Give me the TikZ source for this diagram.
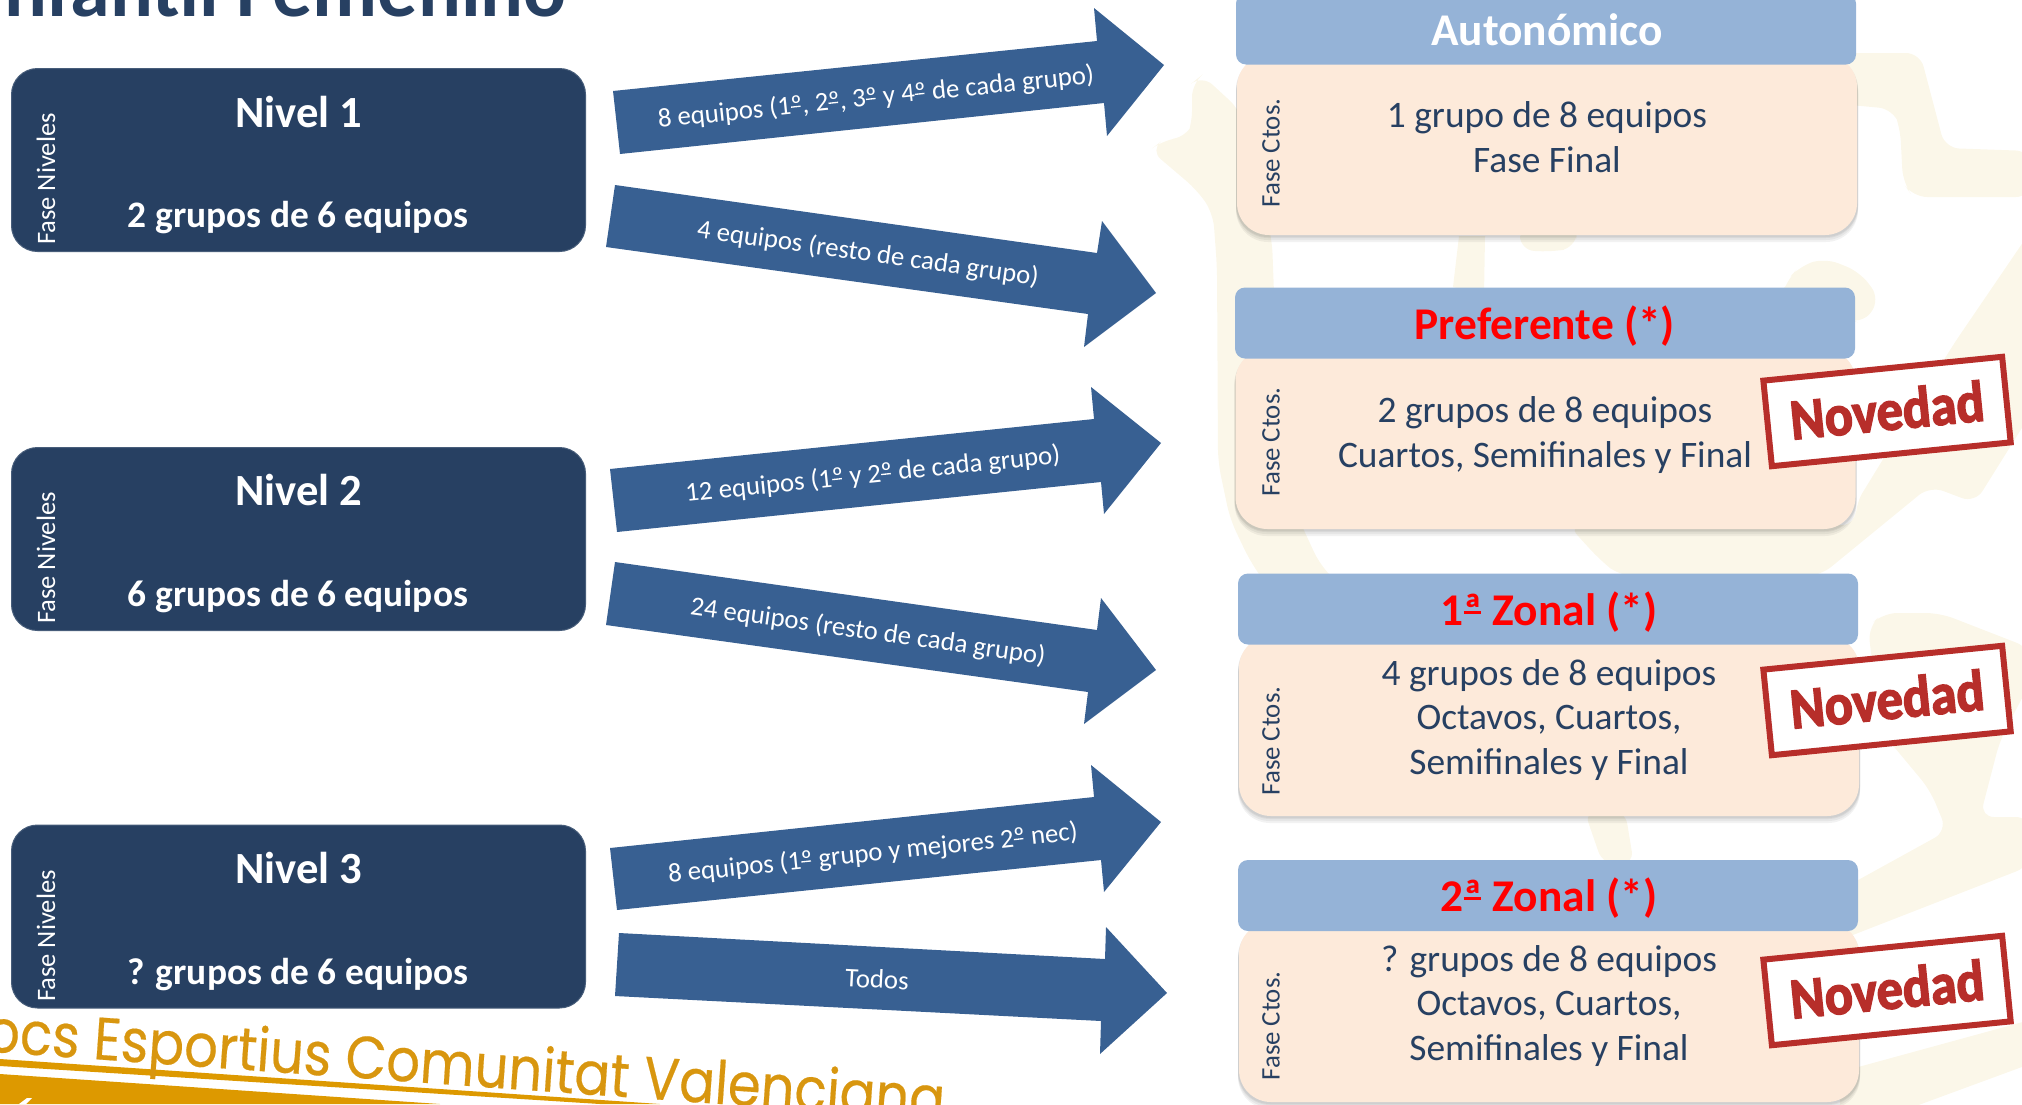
\documentclass[tikz,border=0pt]{standalone}
\usepackage{fontspec}
\setmainfont{Carlito}
\newfontfamily\gothicfont[FakeStretch=0.883,FakeBold=0.3]{Poppins}
\newfontfamily\stampfont[FakeBold=2.6,FakeStretch=0.9]{Carlito Bold}
\definecolor{lvlblue}{HTML}{274062}
\definecolor{arrowblue}{HTML}{386092}
\definecolor{headblue}{HTML}{95B3D7}
\definecolor{bodypeach}{HTML}{FDEADA}
\definecolor{wmcream}{HTML}{FBF7E9}
\definecolor{stampred}{HTML}{B72E2A}
\definecolor{orangetxt}{HTML}{D8960F}
\definecolor{orangeband}{HTML}{DD9900}
\newcommand{\fs}[2]{\fontsize{#1}{#2}\selectfont}
\newcommand{\ordm}{\rlap{\raisebox{.24em}{\rule{.36em}{.05em}}}º}
\newcommand{\orda}{\rlap{\raisebox{.25em}{\rule{.38em}{.07em}}}ª}
\tikzset{
  lvlbox/.style={fill=lvlblue,draw=lvlblue!85!white,line width=0.5pt,rounded corners=13pt,minimum width=287pt,minimum height=91.5pt,inner sep=0pt},
  headbox/.style={fill=headblue,rounded corners=5pt,minimum width=310pt,minimum height=35.5pt,inner sep=0pt},
  bodybox/.style={fill=bodypeach,rounded corners=16pt,minimum width=310pt,inner sep=0pt},
  shadebox/.style={fill=black,opacity=0.05,rounded corners=16pt,minimum width=311pt,inner sep=0pt},
  arrowshape/.style={fill=arrowblue},
  arrowtext/.style={text=white,font=\fs{13.4}{16},inner sep=0pt},
  lvltitle/.style={text=white,font=\bfseries\fs{22.3}{24},inner sep=0pt},
  lvlsub/.style={text=white,font=\bfseries\fs{18.7}{20},inner sep=0pt},
  sidelvl/.style={text=white,font=\fs{13.3}{14},rotate=90,inner sep=0pt},
  sidecto/.style={text=lvlblue,font=\fs{13.4}{14},rotate=90,inner sep=0pt},
  headwhite/.style={text=white,font=\bfseries\fs{22.7}{24},inner sep=0pt},
  headred/.style={text=red,font=\bfseries\fs{22.7}{24},inner sep=0pt},
  bodytext/.style={text=lvlblue,font=\fs{18.7}{22.3},align=center,inner sep=0pt},
  stampbox/.style={fill=white,draw=stampred,line width=3pt,rotate=5.7,minimum width=120pt,minimum height=43pt,inner sep=0pt},
  stamptext/.style={text=stampred,font=\stampfont\fs{29}{30},rotate=5.7,inner sep=0pt},
  wmark/.style={fill=wmcream,rounded corners=7pt}
}
\begin{document}
\begin{tikzpicture}[x=0.5pt,y=-0.5pt]
\useasboundingbox (0,0) rectangle (2022,1104);
\clip (0,0) rectangle (2022,1104);
% watermark
\fill[wmark] (1150,150)--(1163,140)--(1187,137)--(1192,125)--(1192,83)--(1202,75)--(1240,110)--(1272,240)--(1278,400)--(1290,500)--(1320,565)--(1345,590)--(1270,590)--(1250,561)--(1230,519)--(1218,462)--(1217,267)--(1213,213)--(1197,190)--cycle;
\fill[wmark] (1857,53)--(1920,53)--(1945,148)--(2030,151)--(2030,197)--(1913,197)--(1903,183)--(1900,127)--(1893,109)--(1840,104)--(1840,53)--cycle;
\fill[wmcream] (1453,287)--(1459,236)--(1485,236)--(1484,295)--cycle;
\fill[wmark] (1520,225)--(1578,225)--(1575,248)--(1550,252)--(1520,250)--cycle;
\fill[wmark] (1780,300)--(1787,280)--(1800,266)--(1825,258)--(1860,272)--(1880,299)--(1863,324)--(1845,318)--(1845,340)--cycle;
\fill[wmark] (2030,232)--(1953,345)--(1855,505)--(1856,525)--(1727,525)--(1568,525)--(1600,560)--(1620,576)--(1820,576)--(1930,486)--(1975,503)--(2030,415)--cycle;
\fill[wmark] (1584,810)--(1625,810)--(1634,865)--(1603,865)--cycle;
\fill[wmark] (1868,627)--(1883,613)--(1940,613)--(2030,648)--(2030,683)--(2000,740)--(1980,817)--(2030,817)--(2030,866)--(1840,940)--(1840,890)--(1947,831)--(1930,790)--(1880,730)--cycle;
\fill[wmcream] (2030,1020)--(1840,1072)--(1840,1110)--(1905,1110)--(2030,1064)--cycle;
% title
\node[anchor=base east,text=lvlblue,font=\bfseries\fs{40}{44},inner sep=0pt] (title) at (567,16) {Infantil Femenino};
% level boxes
\node[lvlbox] (n1) at (298.5,160) {};
\node[lvlbox] (n2) at (298.5,539) {};
\node[lvlbox] (n3) at (298.5,916.5) {};
\node[sidelvl] (s1) at (46,179) {Fase Niveles};
\node[sidelvl] (s2) at (46,558) {Fase Niveles};
\node[sidelvl] (s3) at (46,936) {Fase Niveles};
\node[lvltitle] (t1) at (299,112) {Nivel 1};
\node[lvlsub] (u1) at (298,218) {2 grupos de 6 equipos};
\node[lvltitle] (t2) at (299,490) {Nivel 2};
\node[lvlsub] (u2) at (298,597) {6 grupos de 6 equipos};
\node[lvltitle] (t3) at (299,868) {Nivel 3};
\node[lvlsub] (u3) at (298,975) {? grupos de 6 equipos};
% arrows
\fill[arrowshape] (613,91)--(1097,41)--(1094,8)--(1164,65)--(1107,136)--(1104,103)--(620,154)--cycle;
\fill[arrowshape] (615,185)--(1097,253)--(1102,221)--(1156,293)--(1084,347)--(1088,314)--(606,247)--cycle;
\fill[arrowshape] (610,469)--(1094,419)--(1091,387)--(1161,443)--(1104,514)--(1101,482)--(617,532)--cycle;
\fill[arrowshape] (615,562)--(1097,630)--(1101,598)--(1156,670)--(1084,724)--(1088,692)--(606,625)--cycle;
\fill[arrowshape] (610,848)--(1094,797)--(1091,765)--(1161,822)--(1104,892)--(1101,860)--(617,910)--cycle;
\fill[arrowshape] (619,933)--(1105,959)--(1106,927)--(1167,993)--(1100,1054)--(1101,1021)--(615,996)--cycle;
\node[arrowtext,rotate=5.9] (a1) at (876,98) {8 equipos (1\ordm, 2\ordm, 3\ordm{} y 4\ordm{} de cada grupo)};
\node[arrowtext,rotate=-8] (a2) at (868,254) {4 equipos (resto de cada grupo)};
\node[arrowtext,rotate=5.9] (a3) at (873,475) {12 equipos (1\ordm{} y 2\ordm{} de cada grupo)};
\node[arrowtext,rotate=-8] (a4) at (868,632) {24 equipos (resto de cada grupo)};
\node[arrowtext,rotate=6] (a5) at (873,854) {8 equipos (1\ordm{} grupo y mejores 2\ordm{} nec)};
\node[arrowtext,rotate=-3] (a6) at (877,979) {Todos};
% competition boxes: shadows, bodies, headers
\foreach \cx/\cy in {1547/145,1545.5/439,1549/726,1549/1012}{
  \foreach \d in {1,2,4,6}{
    \node[shadebox,minimum height=90pt] at (\cx,\cy+\d+1) {};
  }
}
\node[bodybox,minimum height=90pt] (b1) at (1547,145) {};
\node[bodybox,minimum height=90pt] (b2) at (1545.5,439) {};
\node[bodybox,minimum height=90pt] (b3) at (1549,726) {};
\node[bodybox,minimum height=90pt] (b4) at (1549,1012) {};
\node[headbox] (h1) at (1546,29) {};
\node[headbox] (h2) at (1545,323) {};
\node[headbox] (h3) at (1548,609) {};
\node[headbox] (h4) at (1548,895.5) {};
\node[headwhite] (ht1) at (1547,30) {Autonómico};
\node[headred] (ht2) at (1545,326) {Preferente (*)};
\node[headred] (ht3) at (1549,612) {1\orda{} Zonal (*)};
\node[headred] (ht4) at (1549,898) {2\orda{} Zonal (*)};
\node[sidecto] (c1) at (1271,153) {Fase Ctos.};
\node[sidecto] (c2) at (1271,442) {Fase Ctos.};
\node[sidecto] (c3) at (1271,741) {Fase Ctos.};
\node[sidecto] (c4) at (1271,1026) {Fase Ctos.};
\node[bodytext] (d1) at (1547,137) {1 grupo de 8 equipos\\Fase Final};
\node[bodytext] (d2) at (1545,435) {2 grupos de 8 equipos\\Cuartos, Semifinales y Final};
\node[bodytext] (d3) at (1549,720) {4 grupos de 8 equipos\\Octavos, Cuartos,\\Semifinales y Final};
\node[bodytext] (d4) at (1549,1006) {? grupos de 8 equipos\\Octavos, Cuartos,\\Semifinales y Final};
% stamps
\node[stampbox] (st1) at (1887,411.5) {};
\node[stampbox] (st2) at (1887,700.5) {};
\node[stampbox] (st3) at (1887,990.5) {};
\node[stamptext] (sx1) at (1887,410) {Novedad};
\node[stamptext] (sx2) at (1887,699) {Novedad};
\node[stamptext] (sx3) at (1887,989) {Novedad};
% bottom brand
\fill[orangeband] (0,1074)--(440,1104)--(0,1104)--cycle;
\fill[orangeband] (0,1059)--(660,1104)--(600,1104)--(0,1066)--cycle;
\fill[white] (27,1098)--(32,1098)--(26,1104)--(19,1104)--cycle;
\node[anchor=base east,text=orangetxt,font=\gothicfont\fs{30}{32},rotate=-4.1,inner sep=0pt] (brand) at (944,1120) {Bocs Esportius Comunitat Valenciana};
\end{tikzpicture}
\end{document}
